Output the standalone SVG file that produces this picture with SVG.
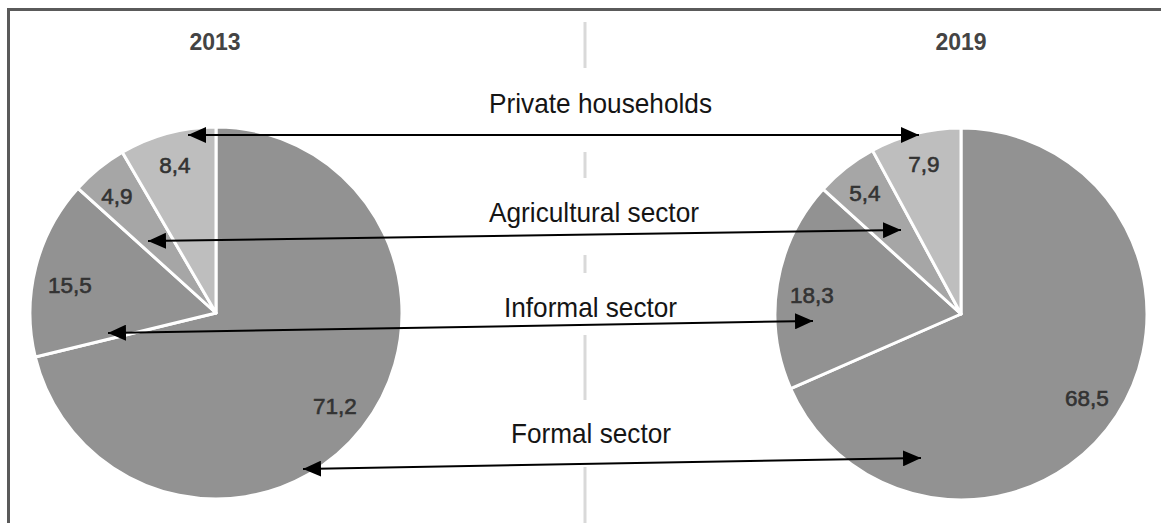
<svg xmlns="http://www.w3.org/2000/svg" width="1161" height="523" viewBox="0 0 1161 523">
<style>
.year{font-family:"Liberation Sans",Arial,sans-serif;font-size:23px;font-weight:bold;fill:#444;text-anchor:middle}
.num{font-family:"Liberation Sans",Arial,sans-serif;font-size:22.5px;fill:#333;stroke:#333;stroke-width:0.6;text-anchor:middle}
.lbl{font-family:"Liberation Sans",Arial,sans-serif;font-size:28px;fill:#151515;text-anchor:middle}
.sep{stroke:#fff;stroke-width:3;stroke-linejoin:round}
.dark{fill:#929292}
.mid{fill:#a6a6a6}
.light{fill:#bebebe}
.dash{stroke:#d9d9d9;stroke-width:3}
.conn{stroke:#000;stroke-width:2;fill:none;marker-start:url(#ah);marker-end:url(#ah)}
</style>
<defs>
<marker id="ah" viewBox="0 0 18 16" refX="18" refY="8" markerWidth="18" markerHeight="16" markerUnits="userSpaceOnUse" orient="auto-start-reverse">
<path d="M0,0 L18,8 L0,16 Z" fill="#000"/>
</marker>
</defs>
<rect x="0" y="0" width="1161" height="523" fill="#fff"/>
<rect x="8.5" y="9.5" width="1170" height="530" fill="none" stroke="#5a5a5a" stroke-width="3"/>
<g id="divider">
<line class="dash" x1="585" y1="22" x2="585" y2="68"/>
<line class="dash" x1="585" y1="152" x2="585" y2="178"/>
<line class="dash" x1="585" y1="255" x2="585" y2="273"/>
<line class="dash" x1="585" y1="335" x2="585" y2="400"/>
<line class="dash" x1="585" y1="467" x2="585" y2="523"/>
</g>
<g id="pie-2013">
<path class="dark sep" d="M216,313 L216,127 A186,186 0 1 1 35.27,356.99 Z"/>
<path class="dark sep" d="M216,313 L35.27,356.99 A186,186 0 0 1 78.01,188.28 Z"/>
<path class="mid sep" d="M216,313 L78.01,188.28 A186,186 0 0 1 122.33,152.31 Z"/>
<path class="light sep" d="M216,313 L122.33,152.31 A186,186 0 0 1 216,127 Z"/>
<text class="year" x="215" y="50">2013</text>
<text class="num" x="175" y="173">8,4</text>
<text class="num" x="117" y="204">4,9</text>
<text class="num" x="70" y="293">15,5</text>
<text class="num" x="335" y="414">71,2</text>
</g>
<g id="pie-2019">
<path class="dark sep" d="M961,314 L961,128 A186,186 0 1 1 790.63,388.61 Z"/>
<path class="dark sep" d="M961,314 L790.63,388.61 A186,186 0 0 1 823.1,189.19 Z"/>
<path class="mid sep" d="M961,314 L823.1,189.19 A186,186 0 0 1 872.48,150.41 Z"/>
<path class="light sep" d="M961,314 L872.48,150.41 A186,186 0 0 1 961,128 Z"/>
<text class="year" x="961" y="50">2019</text>
<text class="num" x="924" y="172">7,9</text>
<text class="num" x="865" y="201">5,4</text>
<text class="num" x="812" y="303">18,3</text>
<text class="num" x="1087" y="406">68,5</text>
</g>
<g id="connectors">
<path class="conn" d="M188,135 L919,135"/>
<path class="conn" d="M148,241 L901,230"/>
<path class="conn" d="M108,333 L813,321"/>
<path class="conn" d="M303,469 L921,458"/>
</g>
<g id="labels">
<text class="lbl" x="600.5" y="113" textLength="223" lengthAdjust="spacingAndGlyphs">Private households</text>
<text class="lbl" x="594" y="222" textLength="210" lengthAdjust="spacingAndGlyphs">Agricultural sector</text>
<text class="lbl" x="590.5" y="317" textLength="173" lengthAdjust="spacingAndGlyphs">Informal sector</text>
<text class="lbl" x="591" y="443" textLength="160" lengthAdjust="spacingAndGlyphs">Formal sector</text>
</g>
</svg>
